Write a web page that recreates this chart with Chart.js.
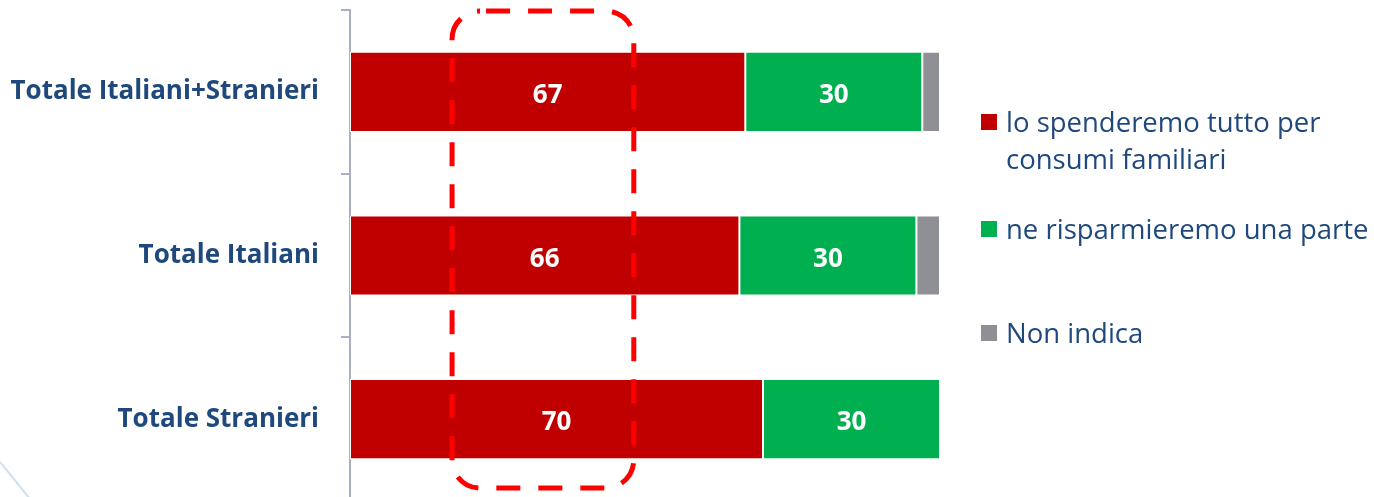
<!DOCTYPE html>
<html>
<head>
<meta charset="utf-8">
<script src="https://cdn.jsdelivr.net/npm/chart.js@4.4.1/dist/chart.umd.min.js"></script>
<style>
  html, body { margin: 0; padding: 0; background: #fff; overflow: hidden; }
  #wrap { position: relative; width: 1374px; height: 501px; }
</style>
</head>
<body>
<div id="wrap"><canvas id="myChart"></canvas></div>
<script>
const categories = ['Totale Italiani+Stranieri', 'Totale Italiani', 'Totale Stranieri']
const spendAll = [67, 66, 70]
const saveSome = [30, 30, 30]
const noAnswer = [3, 4, 0]
const seriesNames = [
    ['lo spenderemo tutto per', 'consumi familiari'],
    ['ne risparmieremo una parte'],
    ['Non indica']
]
const seriesColors = ['#C00000', '#00B050', '#8E9095']
const labelledSeries = [true, true, false]

const textBlue = '#1F497D'

// valori / etichette dentro le barre
const barValues = {
    id: 'barValues',
    afterDatasetsDraw(chart) {
        const ctx = chart.ctx
        ctx.save()
        ctx.fillStyle = '#fff'
        ctx.font = 'bold 26px "Open Sans"'
        ctx.textAlign = 'center'
        ctx.textBaseline = 'alphabetic'
        chart.data.datasets.forEach((ds, i) => {
            if (!labelledSeries[i]) return
            chart.getDatasetMeta(i).data.forEach((bar, j) => {
                const p = bar.getProps(['x', 'y', 'base'], true)
                ctx.fillText(ds.data[j], (p.x + p.base) / 2, p.y + 11)
            })
        })
        ctx.restore()
    }
}

// legenda a destra, con testo su piu righe
const sideLegend = {
    id: 'sideLegend',
    afterDraw(chart) {
        const ctx = chart.ctx
        const rows = [122, 229, 333]
        ctx.save()
        ctx.font = '27.5px "Open Sans"'
        ctx.textBaseline = 'alphabetic'
        ctx.textAlign = 'left'
        chart.data.datasets.forEach((ds, i) => {
            const y = rows[i]
            ctx.fillStyle = ds.backgroundColor
            ctx.fillRect(981, y - 8, 16, 16)
            ctx.fillStyle = textBlue
            seriesNames[i].forEach((line, k) => {
                ctx.fillText(line, 1006, y + 10 + k * 37)
            })
        })
        ctx.restore()
    }
}

// riquadro tratteggiato rosso sulla prima colonna
const highlightBox = {
    id: 'highlightBox',
    afterDraw(chart) {
        const ctx = chart.ctx
        const xs = chart.scales.x
        const x1 = xs.getPixelForValue(17.3)
        const x2 = xs.getPixelForValue(48.1)
        ctx.save()
        ctx.strokeStyle = '#FF0000'
        ctx.lineWidth = 5
        ctx.setLineDash([24, 18])
        ctx.lineDashOffset = -6
        ctx.beginPath()
        ctx.roundRect(x1, 11, x2 - x1, 477, 28)
        ctx.stroke()
        // linea decorativa in basso a sinistra
        ctx.setLineDash([])
        ctx.strokeStyle = '#CFE3EE'
        ctx.lineWidth = 2
        ctx.beginPath()
        ctx.moveTo(0, 462)
        ctx.lineTo(30, 499)
        ctx.stroke()
        ctx.restore()
    }
}

const ctx = document.getElementById('myChart').getContext('2d')

const data = {
    labels: categories,
    datasets: [spendAll, saveSome, noAnswer].map((values, i) => ({
        label: seriesNames[i].join(' '),
        data: values,
        backgroundColor: seriesColors[i],
        borderColor: '#fff',
        borderWidth: 1,
        borderSkipped: false,
        categoryPercentage: 0.98,
        barPercentage: 0.5
    }))
}

const config = {
    type: 'bar',
    data: data,
    options: {
        indexAxis: 'y',
        responsive: true,
        maintainAspectRatio: false,
        animation: false,
        layout: { padding: { top: 10, right: 434, bottom: 0, left: 0 } },
        plugins: {
            legend: { display: false },
            tooltip: { enabled: false }
        },
        scales: {
            x: {
                stacked: true,
                min: 0,
                max: 100,
                display: false
            },
            y: {
                stacked: true,
                afterFit: (scale) => {
                    scale.width = 350
                    scale.paddingTop = 0
                    scale.paddingBottom = 0
                },
                border: { color: '#A8AFC4', width: 2 },
                grid: {
                    offset: true,
                    drawOnChartArea: false,
                    color: '#A8AFC4',
                    lineWidth: 2,
                    tickLength: 9
                },
                ticks: {
                    color: textBlue,
                    padding: 22,
                    font: { family: 'Open Sans', weight: 'bold', size: 26 }
                }
            }
        }
    },
    plugins: [barValues, sideLegend, highlightBox]
}

const myChart = new Chart(ctx, config)
</script>
</body>
</html>
